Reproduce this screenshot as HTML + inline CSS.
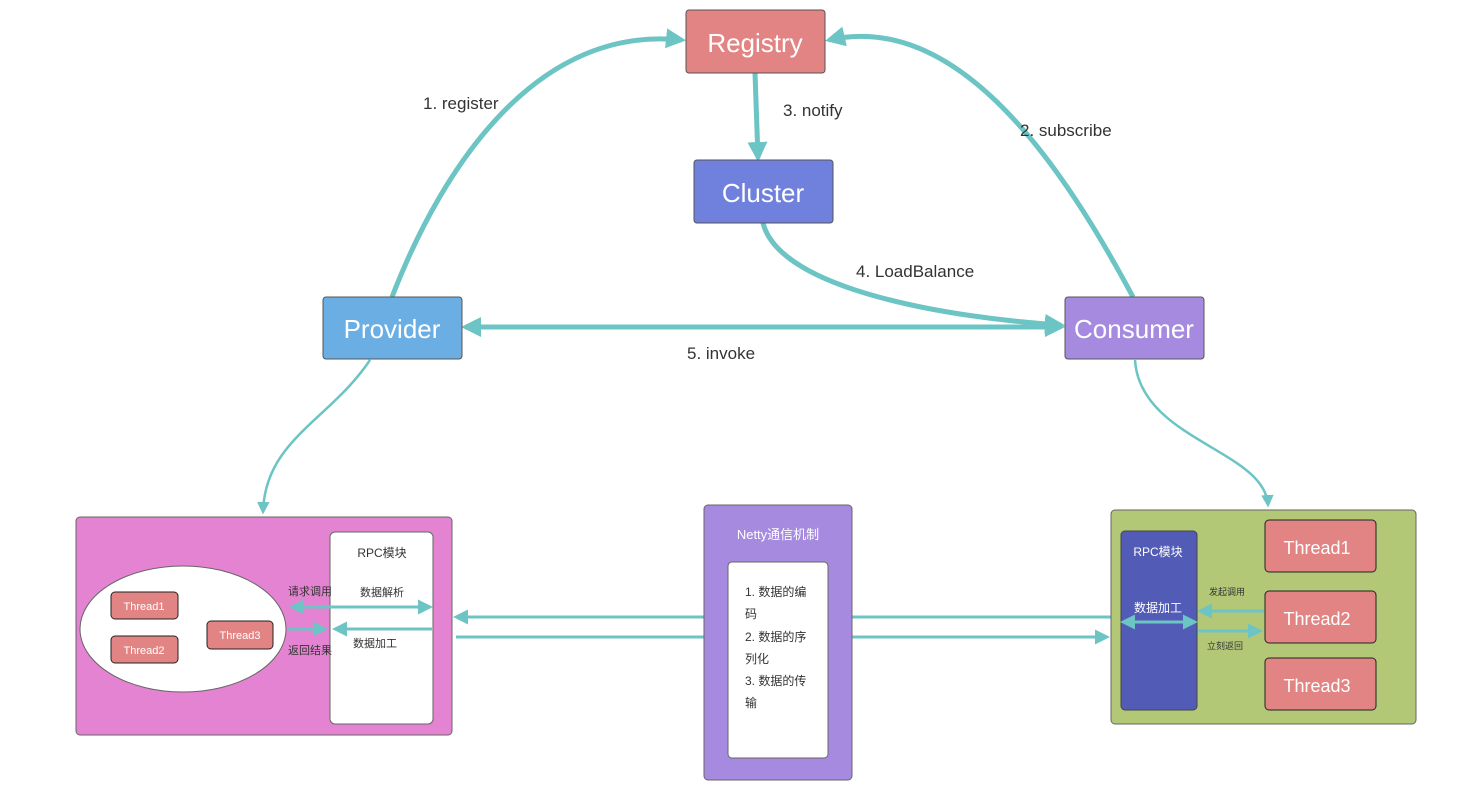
<!DOCTYPE html>
<html><head><meta charset="utf-8"><style>
html,body{margin:0;padding:0;background:#fff;}
svg{display:block;font-family:"Liberation Sans","Noto Sans CJK SC",sans-serif;}
</style></head><body>
<svg width="1478" height="793" viewBox="0 0 1478 793" xmlns="http://www.w3.org/2000/svg">
<defs>
<marker id="ah" viewBox="0 0 10 10" refX="8" refY="5" markerWidth="4" markerHeight="4" orient="auto-start-reverse" markerUnits="strokeWidth"><path d="M0,0 L10,5 L0,10 z" fill="#6cc4c4"/></marker>
<marker id="ah2" viewBox="0 0 10 10" refX="8" refY="5" markerWidth="5" markerHeight="5" orient="auto-start-reverse" markerUnits="strokeWidth"><path d="M0,0 L10,5 L0,10 z" fill="#6cc4c4"/></marker>
</defs>
<g fill="none" stroke="#6cc4c4" stroke-width="5">
<path d="M392,297 C445,160 540,25 682,40" marker-end="url(#ah)"/>
<path d="M1133,297 C1065,170 960,10 829,40" marker-end="url(#ah)"/>
<path d="M755,73 L758,158" marker-end="url(#ah)"/>
<path d="M763,223 C780,290 950,318 1061,325" marker-end="url(#ah)"/>
<path d="M465,327 L1061,327" marker-start="url(#ah)" marker-end="url(#ah)"/>
</g>
<g fill="none" stroke="#6cc4c4" stroke-width="2.5">
<path d="M370,360 C330,420 265,440 263,512" marker-end="url(#ah2)"/>
<path d="M1135,360 C1140,440 1265,450 1268,505" marker-end="url(#ah2)"/>
</g>
<g font-size="17" fill="#333">
<text x="423" y="109">1. register</text>
<text x="783" y="116">3. notify</text>
<text x="1020" y="136">2. subscribe</text>
<text x="856" y="277">4. LoadBalance</text>
<text x="687" y="359">5. invoke</text>
</g>
<g stroke="#555" stroke-width="1">
<rect x="686" y="10" width="139" height="63" rx="3" fill="#e38484"/>
<rect x="694" y="160" width="139" height="63" rx="3" fill="#7080dd"/>
<rect x="323" y="297" width="139" height="62" rx="3" fill="#6aaee4"/>
<rect x="1065" y="297" width="139" height="62" rx="3" fill="#a58ae0"/>
</g>
<g font-size="26" fill="#fff" text-anchor="middle">
<text x="755" y="52">Registry</text>
<text x="763" y="202">Cluster</text>
<text x="392" y="338">Provider</text>
<text x="1134" y="338">Consumer</text>
</g>
<rect x="76" y="517" width="376" height="218" rx="4" fill="#e383d2" stroke="#666"/>
<ellipse cx="183" cy="629" rx="103" ry="63" fill="#fff" stroke="#666"/>
<g stroke="#222" fill="#e38484">
<rect x="111" y="592" width="67" height="27" rx="4"/>
<rect x="111" y="636" width="67" height="27" rx="4"/>
<rect x="207" y="621" width="66" height="28" rx="4"/>
</g>
<g font-size="11" fill="#fff" text-anchor="middle">
<text x="144" y="610">Thread1</text>
<text x="144" y="654">Thread2</text>
<text x="240" y="639">Thread3</text>
</g>
<rect x="330" y="532" width="103" height="192" rx="5" fill="#fff" stroke="#666"/>
<g font-size="11" fill="#333">
<text x="382" y="557" text-anchor="middle" font-size="12">RPC模块</text>
<text x="360" y="596">数据解析</text>
<text x="353" y="647">数据加工</text>
<text x="288" y="595">请求调用</text>
<text x="288" y="654">返回结果</text>
</g>
<g fill="none" stroke="#6cc4c4" stroke-width="3">
<path d="M292,607 L430,607" marker-start="url(#ah2)" marker-end="url(#ah2)"/>
<path d="M288,629 L325,629" marker-end="url(#ah2)"/>
<path d="M432,629 L335,629" marker-end="url(#ah2)"/>
<path d="M704,617 L456,617" marker-end="url(#ah2)"/>
<path d="M456,637 L704,637"/>
<path d="M852,617 L1111,617"/>
<path d="M852,637 L1107,637" marker-end="url(#ah2)"/>
</g>
<rect x="704" y="505" width="148" height="275" rx="4" fill="#a58ae0" stroke="#666"/>
<text x="778" y="539" font-size="13" fill="#fff" text-anchor="middle">Netty通信机制</text>
<rect x="728" y="562" width="100" height="196" rx="4" fill="#fff" stroke="#666"/>
<g font-size="12" fill="#333">
<text x="745" y="596">1. 数据的编</text>
<text x="745" y="618">码</text>
<text x="745" y="641">2. 数据的序</text>
<text x="745" y="663">列化</text>
<text x="745" y="685">3. 数据的传</text>
<text x="745" y="707">输</text>
</g>
<rect x="1111" y="510" width="305" height="214" rx="4" fill="#b2c877" stroke="#666"/>
<rect x="1121" y="531" width="76" height="179" rx="4" fill="#525bb5" stroke="#444"/>
<text x="1158" y="556" font-size="12" fill="#fff" text-anchor="middle">RPC模块</text>
<text x="1158" y="612" font-size="12" fill="#fff" text-anchor="middle">数据加工</text>
<g stroke="#222" fill="#e38484">
<rect x="1265" y="520" width="111" height="52" rx="4"/>
<rect x="1265" y="591" width="111" height="52" rx="4"/>
<rect x="1265" y="658" width="111" height="52" rx="4"/>
</g>
<g font-size="18" fill="#fff" text-anchor="middle">
<text x="1317" y="554">Thread1</text>
<text x="1317" y="625">Thread2</text>
<text x="1317" y="692">Thread3</text>
</g>
<g font-size="9" fill="#333">
<text x="1209" y="595">发起调用</text>
<text x="1207" y="649">立刻返回</text>
</g>
<g fill="none" stroke="#6cc4c4" stroke-width="3">
<path d="M1123,622 L1195,622" marker-start="url(#ah2)" marker-end="url(#ah2)"/>
<path d="M1264,611 L1200,611" marker-end="url(#ah2)"/>
<path d="M1198,631 L1260,631" marker-end="url(#ah2)"/>
</g>
</svg>
</body></html>
